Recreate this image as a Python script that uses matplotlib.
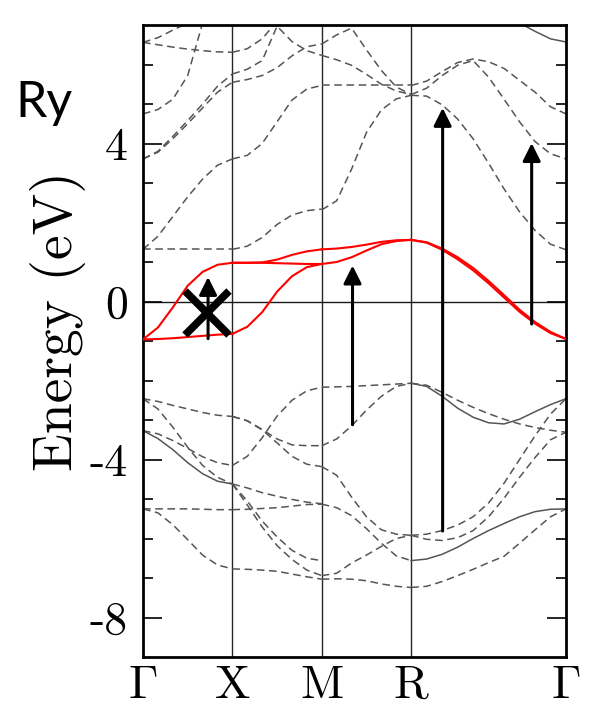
import numpy as np
import matplotlib
matplotlib.use("Agg")
import matplotlib.pyplot as plt

plt.rcParams["mathtext.fontset"] = "cm"
plt.rcParams["font.family"] = "cmr10"
plt.rcParams["axes.unicode_minus"] = False

nan = np.nan

# high-symmetry points along the path
k_labels = [r"$\Gamma$", "X", "M", "R", r"$\Gamma$"]
k_points = [0.0, 0.5, 1.0, 1.5, 1.5 + np.sqrt(3) / 2]

# energies (eV) read along each segment of the path
# Gamma -> X (7 samples)
gx_red = [
    [-0.96, -0.66, -0.15, 0.40, 0.75, 0.93, 0.98],
    [-0.96, -0.95, -0.93, -0.90, -0.87, -0.84, -0.82],
]
gx_dashed = [
    [1.32, 1.32, 1.32, 1.32, 1.32, 1.32, 1.32],
    [1.32, 1.65, 2.15, 2.65, 3.10, 3.45, 3.61],
    [3.61, 3.78, 4.12, 4.50, 4.90, 5.30, 5.55],
    [3.61, 3.80, 4.18, 4.58, 5.00, 5.45, 5.76],
    [4.75, 4.86, 5.12, 5.72, 7.05, nan, nan],
    [6.56, 6.50, 6.44, 6.39, 6.35, 6.32, 6.31],
    [6.56, 6.68, 6.87, 7.05, nan, nan, nan],
    [-2.46, -2.53, -2.63, -2.72, -2.81, -2.88, -2.91],
    [-2.46, -2.72, -3.18, -3.69, -4.15, -4.45, -4.62],
    [-3.27, -3.35, -3.52, -3.72, -3.93, -4.08, -4.15],
    [-5.25, -5.25, -5.25, -5.25, -5.26, -5.27, -5.27],
    [-5.25, -5.35, -5.65, -6.03, -6.42, -6.67, -6.77],
]
gx_solid = [
    [-3.27, -3.47, -3.75, -4.08, -4.36, -4.55, -4.62],
]

# X -> M (7 samples)
xm_red = [
    [0.98, 0.98, 0.99, 1.06, 1.18, 1.27, 1.32],
    [0.98, 0.98, 0.98, 0.97, 0.96, 0.95, 0.95],
    [-0.82, -0.64, -0.27, 0.25, 0.64, 0.87, 0.95],
]
xm_dashed = [
    [1.32, 1.40, 1.62, 1.95, 2.19, 2.30, 2.34],
    [3.61, 3.70, 4.00, 4.55, 5.10, 5.38, 5.47],
    [5.55, 5.62, 5.72, 5.92, 6.22, 6.45, 6.52],
    [5.76, 5.88, 6.10, 6.97, 6.58, 6.35, 6.23],
    [6.31, 6.40, 6.65, 7.10, nan, nan, nan],
    [-2.91, -3.02, -3.24, -3.48, -3.63, -3.65, -3.65],
    [-2.91, -3.02, -3.25, -3.58, -3.92, -4.12, -4.18],
    [-4.15, -3.92, -3.45, -2.90, -2.50, -2.26, -2.17],
    [-4.62, -4.72, -4.84, -4.93, -5.01, -5.08, -5.12],
    [-5.27, -5.26, -5.24, -5.22, -5.18, -5.14, -5.13],
    [-4.62, -5.05, -5.56, -5.96, -6.30, -6.50, -6.56],
    [-4.62, -5.15, -5.71, -6.18, -6.53, -6.80, -6.94],
    [-6.77, -6.78, -6.80, -6.83, -6.90, -6.97, -7.03],
]

# M -> R (7 samples)
mr_red = [
    [1.32, 1.34, 1.38, 1.44, 1.51, 1.55, 1.56],
    [0.95, 1.00, 1.12, 1.29, 1.45, 1.53, 1.56],
]
mr_dashed = [
    [2.32, 2.55, 3.35, 4.28, 4.85, 5.13, 5.22],
    [5.47, 5.47, 5.47, 5.47, 5.47, 5.47, 5.47],
    [6.52, 6.75, 6.92, 6.37, 5.85, 5.43, 5.24],
    [6.23, 6.12, 5.98, 5.75, 5.50, 5.33, 5.24],
    [-2.17, -2.16, -2.15, -2.13, -2.11, -2.09, -2.07],
    [-3.65, -3.48, -3.15, -2.75, -2.40, -2.15, -2.07],
    [-4.18, -4.40, -4.95, -5.45, -5.78, -5.89, -5.92],
    [-5.13, -5.22, -5.42, -5.75, -6.12, -6.44, -6.56],
    [-6.94, -6.88, -6.62, -6.42, -6.20, -6.00, -5.92],
    [-7.03, -7.02, -7.03, -7.07, -7.15, -7.21, -7.24],
]

# R -> Gamma (11 samples)
rg_red = [
    [1.56, 1.50, 1.34, 1.12, 0.85, 0.52, 0.16, -0.21, -0.52, -0.77, -0.95],
    [1.56, 1.49, 1.31, 1.07, 0.79, 0.46, 0.10, -0.26, -0.56, -0.80, -0.95],
]
rg_dashed = [
    [5.22, 5.20, 4.98, 4.62, 4.12, 3.50, 2.85, 2.27, 1.80, 1.45, 1.31],
    [5.47, 5.58, 5.82, 6.05, 6.14, 6.07, 5.90, 5.60, 5.30, 4.93, 4.75],
    [5.24, 5.40, 5.72, 5.98, 6.10, 5.68, 5.12, 4.55, 4.05, 3.74, 3.61],
    [-2.07, -2.12, -2.30, -2.50, -2.68, -2.84, -2.98, -3.10, -3.19, -3.26, -3.31],
    [-5.92, -5.89, -5.80, -5.66, -5.45, -5.10, -4.60, -4.00, -3.40, -2.85, -2.46],
    [-5.92, -6.02, -6.05, -5.98, -5.80, -5.45, -4.98, -4.45, -3.95, -3.50, -3.31],
    [-7.24, -7.21, -7.09, -6.94, -6.78, -6.61, -6.45, -6.12, -5.78, -5.45, -5.25],
]
rg_solid = [
    [nan, nan, nan, nan, nan, nan, nan, 7.05, 6.84, 6.65, 6.57],
    [-2.07, -2.15, -2.40, -2.70, -2.93, -3.07, -3.10, -2.98, -2.79, -2.61, -2.46],
    [-6.56, -6.52, -6.40, -6.22, -6.00, -5.80, -5.62, -5.45, -5.32, -5.26, -5.25],
]

# transitions: k position, start energy, end energy
arrow_k = [0.364, 1.172, 1.676, 2.174]
arrow_from = [-0.94, -3.12, -5.81, -0.57]
arrow_to = [0.62, 0.91, 4.90, 4.01]

# forbidden transition marker
cross_k = 0.358
cross_e = -0.28


def segment(k0, k1, n):
    return np.linspace(k0, k1, n)


def draw(ax, k, bands, **style):
    for e in bands:
        ax.plot(k, e, **style)


if __name__ == "__main__":
    fig = plt.figure(figsize=(6.02, 7.06), dpi=100)
    ax = fig.add_axes([143 / 602, 1 - 657 / 706, 423 / 602, 632 / 706])

    dashed = dict(color="#555555", lw=1.1, linestyle=(0, (5, 3)), zorder=2)
    solid = dict(color="#555555", lw=1.1, linestyle="-", zorder=2)
    red = dict(color="#ff0000", lw=1.5, zorder=3)

    segs = [
        (segment(k_points[0], k_points[1], 7), gx_red, gx_dashed, gx_solid),
        (segment(k_points[1], k_points[2], 7), xm_red, xm_dashed, []),
        (segment(k_points[2], k_points[3], 7), mr_red, mr_dashed, []),
        (segment(k_points[3], k_points[4], 11), rg_red, rg_dashed, rg_solid),
    ]
    for k, r, d, s in segs:
        draw(ax, k, d, **dashed)
        draw(ax, k, s, **solid)
        draw(ax, k, r, **red)

    for kp in k_points[1:-1]:
        ax.axvline(kp, color="0.15", lw=1.0, zorder=1)
    ax.axhline(0, color="0.1", lw=1.0, zorder=1)

    for k, e0, e1 in zip(arrow_k, arrow_from, arrow_to):
        ax.annotate("", xy=(k, e1), xytext=(k, e0),
                    arrowprops=dict(arrowstyle="-|>", color="k", lw=2.2,
                                    mutation_scale=27, shrinkA=0, shrinkB=0),
                    zorder=5)

    ax.plot(cross_k, cross_e, marker="x", ms=32, mew=5.5, color="k", zorder=6)

    ax.set_xlim(k_points[0], k_points[-1])
    ax.set_ylim(-9, 7)
    ax.set_xticks(k_points)
    ax.set_xticklabels(k_labels, fontsize=34)
    ax.set_yticks([-8, -4, 0, 4])
    ax.set_yticklabels(["-8", "-4", "0", "4"], fontsize=33)
    ax.set_yticks(range(-8, 7), minor=True)
    ax.tick_params(axis="x", length=0, pad=6)
    ax.tick_params(axis="y", which="both", direction="in", left=True,
                   right=True, width=1.2, pad=11)
    ax.tick_params(axis="y", which="major", length=13.5)
    ax.tick_params(axis="y", which="minor", length=7)
    for sp in ax.spines.values():
        sp.set_linewidth(2.0)

    fig.text(58 / 602, 1 - 321 / 706, "Energy (eV)", rotation=90,
             fontsize=40, ha="center", va="center")
    fig.text(44 / 602, 1 - 103 / 706, "Ry", family="Lato", fontsize=36,
             ha="center", va="center")

    fig.savefig("out.png", dpi=100)
